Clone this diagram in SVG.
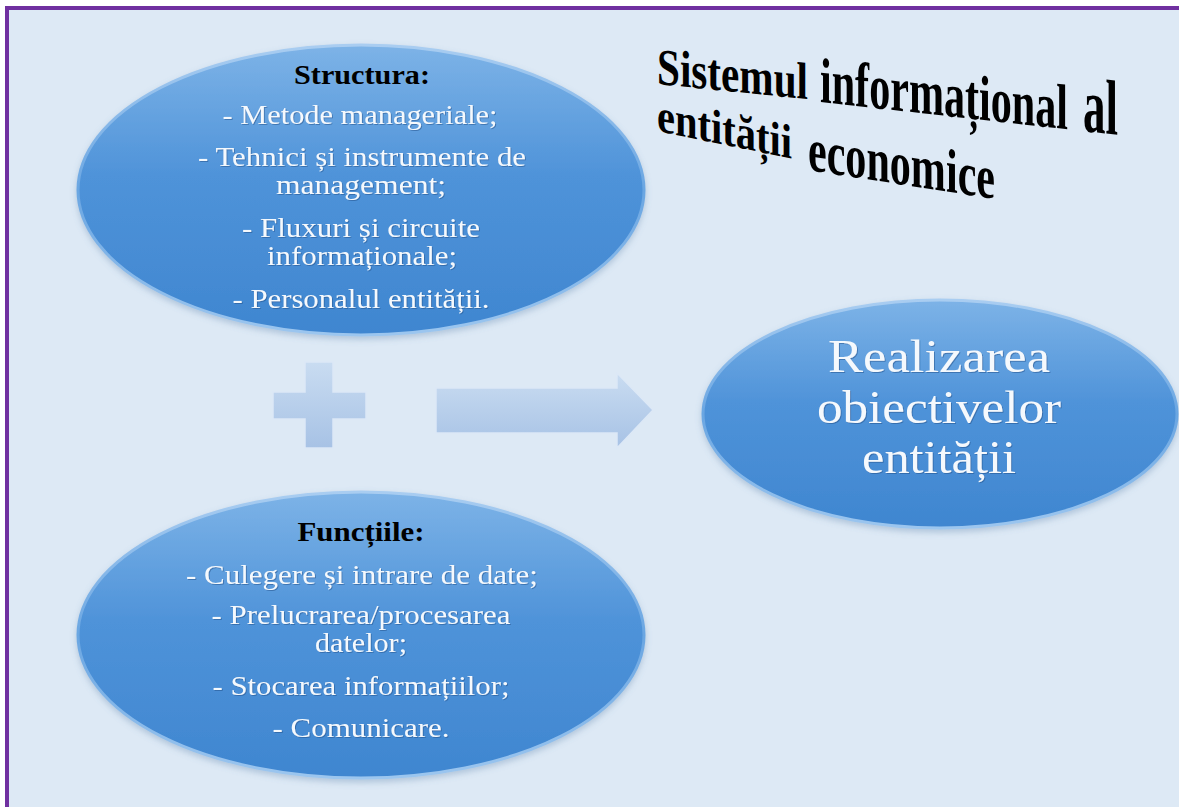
<svg xmlns="http://www.w3.org/2000/svg" width="1179" height="807" viewBox="0 0 1179 807">
  <defs>
    <linearGradient id="ellG" x1="0" y1="0" x2="0" y2="1">
      <stop offset="0" stop-color="#7db3e7"/>
      <stop offset="0.45" stop-color="#4f93d9"/>
      <stop offset="1" stop-color="#3f86d0"/>
    </linearGradient>
    <linearGradient id="rimG" x1="0" y1="0" x2="0" y2="1">
      <stop offset="0" stop-color="#a9cdf1"/>
      <stop offset="0.5" stop-color="#6aa6e2"/>
      <stop offset="1" stop-color="#9cc6ef"/>
    </linearGradient>
    <linearGradient id="shapeG" x1="0" y1="0" x2="0" y2="1">
      <stop offset="0" stop-color="#c9dcf1"/>
      <stop offset="1" stop-color="#a7c2e5"/>
    </linearGradient>
    <filter id="sh" x="-10%" y="-10%" width="120%" height="130%">
      <feDropShadow dx="0" dy="3" stdDeviation="3" flood-color="#5b7fa8" flood-opacity="0.35"/>
    </filter>
    <filter id="tsh" x="-5%" y="-20%" width="110%" height="140%">
      <feDropShadow dx="1" dy="1" stdDeviation="0.6" flood-color="#1f4f86" flood-opacity="0.5"/>
    </filter>
    <style>
      .ell { fill: url(#ellG); stroke: url(#rimG); stroke-width: 3; filter: url(#sh); }
      .t { font-family: "Liberation Serif", "Times New Roman", serif; font-size: 27px; fill: #f5f9fd; text-anchor: middle; filter: url(#tsh); }
      .h { font-family: "Liberation Serif", "Times New Roman", serif; font-size: 27px; font-weight: bold; fill: #000; text-anchor: middle; }
      .big { font-family: "Liberation Serif", "Times New Roman", serif; font-size: 47px; fill: #f5f9fd; text-anchor: middle; filter: url(#tsh); }
      .title { font-family: "Liberation Serif", "Times New Roman", serif; font-weight: bold; fill: #000; }
      .shape { fill: url(#shapeG); stroke: #dce8f6; stroke-width: 1.5; }
    </style>
  </defs>

  <rect x="0" y="0" width="1179" height="807" fill="#ffffff"/>
  <rect x="7" y="8" width="1200" height="830" fill="#dde9f5" stroke="#7030a0" stroke-width="4"/>

  <g id="title">
    <text class="title" transform="translate(657,84) skewY(5.7)" font-size="52" textLength="151" lengthAdjust="spacingAndGlyphs">Sistemul</text>
    <text class="title" transform="translate(820,102) skewY(6.3)" font-size="64" textLength="248" lengthAdjust="spacingAndGlyphs">informațional</text>
    <text class="title" transform="translate(1083,131) skewY(6.5)" font-size="78" textLength="35" lengthAdjust="spacingAndGlyphs">al</text>
    <text class="title" transform="translate(657,131) skewY(11.5)" font-size="48" textLength="135" lengthAdjust="spacingAndGlyphs">entității</text>
    <text class="title" transform="translate(808,170) skewY(8.8)" font-size="62" textLength="187" lengthAdjust="spacingAndGlyphs">economice</text>
  </g>

  <g id="structura">
    <ellipse class="ell" cx="361" cy="190" rx="283" ry="145"/>
    <text class="h" x="362" y="84" textLength="136" lengthAdjust="spacingAndGlyphs">Structura:</text>
    <text class="t" x="360" y="124" textLength="275" lengthAdjust="spacingAndGlyphs">- Metode manageriale;</text>
    <text class="t" x="362" y="166" textLength="328" lengthAdjust="spacingAndGlyphs">- Tehnici  și instrumente de</text>
    <text class="t" x="361" y="194" textLength="170" lengthAdjust="spacingAndGlyphs">management;</text>
    <text class="t" x="361" y="237" textLength="238" lengthAdjust="spacingAndGlyphs">- Fluxuri și circuite</text>
    <text class="t" x="362" y="265" textLength="190" lengthAdjust="spacingAndGlyphs">informaționale;</text>
    <text class="t" x="361" y="308" textLength="257" lengthAdjust="spacingAndGlyphs">- Personalul entității.</text>
  </g>

  <g id="functiile">
    <ellipse class="ell" cx="361" cy="635" rx="283" ry="143"/>
    <text class="h" x="361" y="541" textLength="127" lengthAdjust="spacingAndGlyphs">Funcțiile:</text>
    <text class="t" x="362" y="584" textLength="352" lengthAdjust="spacingAndGlyphs">- Culegere și intrare de date;</text>
    <text class="t" x="361" y="624" textLength="299" lengthAdjust="spacingAndGlyphs">- Prelucrarea/procesarea</text>
    <text class="t" x="361" y="652" textLength="92" lengthAdjust="spacingAndGlyphs">datelor;</text>
    <text class="t" x="361" y="695" textLength="297" lengthAdjust="spacingAndGlyphs">- Stocarea informațiilor;</text>
    <text class="t" x="361" y="737" textLength="177" lengthAdjust="spacingAndGlyphs">- Comunicare.</text>
  </g>

  <g id="realizarea">
    <ellipse class="ell" cx="940" cy="414" rx="237" ry="114"/>
    <text class="big" x="939" y="372" textLength="222" lengthAdjust="spacingAndGlyphs">Realizarea</text>
    <text class="big" x="939" y="423" textLength="244" lengthAdjust="spacingAndGlyphs">obiectivelor</text>
    <text class="big" x="939" y="473" textLength="154" lengthAdjust="spacingAndGlyphs">entității</text>
  </g>

  <g id="connectors">
    <path id="plus" class="shape" d="M305,362 H333 V392 H366 V419 H333 V448 H305 V419 H273 V392 H305 Z"/>
    <path id="arrow" class="shape" d="M436,388 H617 V373 L653,410 L617,448 V433 H436 Z"/>
  </g>
</svg>
